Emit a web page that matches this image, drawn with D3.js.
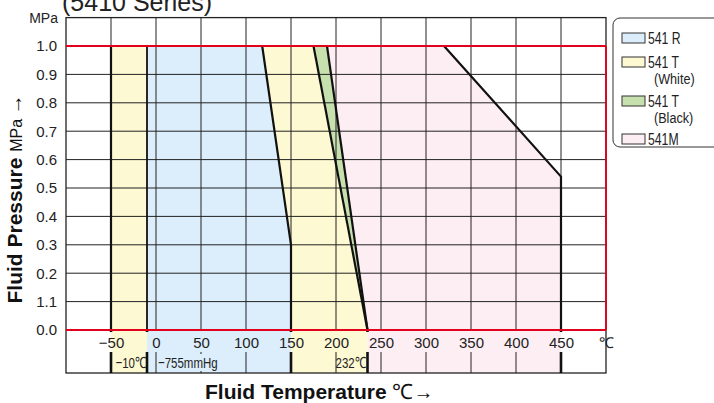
<!DOCTYPE html>
<html>
<head>
<meta charset="utf-8">
<script src="https://cdn.jsdelivr.net/npm/d3@7"></script>
<style>
  body { margin: 0; background: #fff; }
  svg { display: block; font-family: "Liberation Sans", Arial, sans-serif; }
</style>
</head>
<body>
<svg id="chart" width="714" height="403"></svg>
<script>
// Tick values and labels
const xTicks = [-50, 0, 50, 100, 150, 200, 250, 300, 350, 400, 450, 500];
const xTickLabels = ["\u221250", "0", "50", "100", "150", "200", "250", "300", "350", "400", "450", "\u2103"];
const yTicks = [1.0, 0.9, 0.8, 0.7, 0.6, 0.5, 0.4, 0.3, 0.2, 0.1, 0.0];
const yTickLabels = ["1.0", "0.9", "0.8", "0.7", "0.6", "0.5", "0.4", "0.3", "0.2", "1.1", "0.0"];

// Usable ranges, [temperature, pressure]
const r541 = [[-10, 1.0], [118, 1.0], [150, 0.3], [150, 0], [-10, 0]];
const t541WhiteLow = [[-50, 1.0], [-10, 1.0], [-10, 0], [-50, 0]];
const t541WhiteHigh = [[118, 1.0], [175, 1.0], [235, 0], [150, 0], [150, 0.3]];
const t541Black = [[175, 1.0], [190, 1.0], [235, 0]];
const m541 = [[190, 1.0], [320, 1.0], [450, 0.54], [450, 0], [235, 0]];

// Boundary lines between the ranges
const boundaries = [
  [[-50, 1.0], [-50, 0]],
  [[-10, 1.0], [-10, 0]],
  [[118, 1.0], [150, 0.3], [150, 0]],
  [[175, 1.0], [235, 0]],
  [[190, 1.0], [235, 0]],
  [[320, 1.0], [450, 0.54], [450, 0]]
];

// Notes under the axis
const noteTemps = [-10, 0, 232];
const noteTexts = ["\u221210\u2103", "\u2212755mmHg", "232\u2103"];

const legendNames = ["541 R", "541 T", "541 T", "541M"];
const legendSubs = ["", "(White)", "(Black)", ""];

const colors = { blue: "#dcedfc", yellow: "#fdf9d2", green: "#c6e0ae", pink: "#fdeef3", red: "#e2001a" };

const svg = d3.select("#chart");

// Scales
const x = d3.scaleLinear().domain([-100, 500]).range([66, 606]);
const y = d3.scaleLinear().domain([0, 1.0]).range([330, 46]);
const plotTop = y(1.1);
const plotBottom = 373;
const gapTop = 332, gapBottom = 352;

// Title (cut off at the top edge, as in the source)
svg.append("text")
  .attr("x", 62).attr("y", 11)
  .style("font-size", "25px").attr("fill", "#222")
  .text("(5410 Series)");

// Fills
const area = d3.line().x(d => x(d[0])).y(d => y(d[1]));
const fills = [
  [t541WhiteLow, colors.yellow],
  [r541, colors.blue],
  [t541WhiteHigh, colors.yellow],
  [t541Black, colors.green],
  [m541, colors.pink]
];
fills.forEach(([pts, c]) => {
  svg.append("path").attr("d", area(pts) + "Z").attr("fill", c);
  // continue the strip at pressure 0 down to the frame bottom
  const zero = pts.filter(d => d[1] === 0).map(d => d[0]);
  if (zero.length > 1) {
    const x0 = d3.min(zero), x1 = d3.max(zero);
    svg.append("rect")
      .attr("x", x(x0)).attr("y", y(0))
      .attr("width", x(x1) - x(x0)).attr("height", plotBottom - y(0))
      .attr("fill", c);
  }
});

// Grid
const grid = svg.append("g").attr("stroke", "#222").attr("stroke-width", 1);
d3.range(-50, 500, 50).forEach(t => {
  grid.append("line").attr("x1", x(t)).attr("x2", x(t)).attr("y1", plotTop).attr("y2", y(0));
  grid.append("line").attr("x1", x(t)).attr("x2", x(t)).attr("y1", gapBottom).attr("y2", plotBottom);
});
yTicks.filter(p => p > 0 && p < 1).forEach(p => {
  grid.append("line").attr("x1", x(-100)).attr("x2", x(500)).attr("y1", y(p)).attr("y2", y(p));
});

// Frame
svg.append("rect")
  .attr("x", x(-100)).attr("y", plotTop)
  .attr("width", x(500) - x(-100)).attr("height", plotBottom - plotTop)
  .attr("fill", "none").attr("stroke", "#222").attr("stroke-width", 1.3);

// Boundary lines
const bl = svg.append("g").attr("fill", "none").attr("stroke", "#111").attr("stroke-linejoin", "round");
boundaries.forEach(pts => {
  const thick = pts[0][0] !== -10;
  bl.append("path").attr("d", area(pts)).attr("stroke-width", thick ? 2.2 : 1.8);
});
// extend boundary ends below 0
const ends = Array.from(new Set(boundaries.map(b => b[b.length - 1][0])));
ends.forEach(t => {
  bl.append("line").attr("x1", x(t)).attr("x2", x(t)).attr("y1", y(0)).attr("y2", gapTop).attr("stroke-width", 2.6);
  bl.append("line").attr("x1", x(t)).attr("x2", x(t)).attr("y1", gapBottom).attr("y2", plotBottom).attr("stroke-width", 2.6);
});

// Red limit lines at 0 and 1.0 MPa
const red = svg.append("g").attr("stroke", colors.red).attr("stroke-width", 1.8);
[0, 1.0].forEach(p => red.append("line").attr("x1", x(-100)).attr("x2", x(500)).attr("y1", y(p)).attr("y2", y(p)));
red.append("line").attr("x1", x(500)).attr("x2", x(500)).attr("y1", y(1.0)).attr("y2", y(0));

// Axes
const yAxis = svg.append("g")
  .attr("transform", `translate(${x(-100)},0)`)
  .call(d3.axisLeft(y).tickValues(yTicks).tickFormat((d, i) => yTickLabels[i]).tickSize(0).tickPadding(9));
yAxis.select(".domain").remove();
yAxis.selectAll("text").style("font-size", "15px").attr("fill", "#222");
yAxis.attr("font-family", null);

svg.append("text")
  .attr("x", 58).attr("y", 23).attr("text-anchor", "end")
  .style("font-size", "14px").attr("fill", "#222")
  .text("MPa");

const xAxis = svg.append("g")
  .attr("transform", `translate(0,${y(0)})`)
  .call(d3.axisBottom(x).tickValues(xTicks).tickFormat((d, i) => xTickLabels[i]).tickSize(0).tickPadding(7));
xAxis.select(".domain").remove();
xAxis.selectAll("text").style("font-size", "15px").attr("fill", "#222");
xAxis.attr("font-family", null);

// Notes row
function condense(sel, k) {
  sel.each(function () {
    const w = this.getComputedTextLength();
    d3.select(this).attr("textLength", w * k).attr("lengthAdjust", "spacingAndGlyphs");
  });
}
const notes = svg.append("g").style("font-size", "15.5px").attr("fill", "#222");
noteTemps.forEach((t, i) => {
  const start = i === 1;
  const tx = notes.append("text")
    .attr("x", start ? x(t) + 2 : x(t) + (t === -10 ? -1 : 1))
    .attr("y", 368)
    .attr("text-anchor", start ? "start" : "end")
    .text(noteTexts[i]);
  condense(tx, 0.74);
  if (start) {
    // text sits over the 50 gridline, mask it with the range colour
    const b = tx.node().getBBox();
    notes.insert("rect", "text")
      .attr("x", b.x).attr("y", b.y).attr("width", b.width + 1).attr("height", b.height)
      .attr("fill", colors.blue);
  }
});

// Axis titles
const yt = svg.append("text")
  .attr("transform", "translate(22,199) rotate(-90)")
  .attr("text-anchor", "middle").attr("fill", "#111");
yt.append("tspan").style("font-size", "21px").style("font-weight", "bold").text("Fluid Pressure ");
yt.append("tspan").style("font-size", "16px").text("MPa ");
yt.append("tspan").style("font-size", "20px").text("\u2192");

const xt = svg.append("text")
  .attr("x", 205).attr("y", 399).attr("fill", "#111");
xt.append("tspan").style("font-size", "21px").style("font-weight", "bold").text("Fluid Temperature ");
xt.append("tspan").style("font-size", "21px").text("\u2103");
xt.append("tspan").style("font-size", "20px").text("\u2192");

// Legend
const lg = svg.append("g");
lg.append("rect")
  .attr("x", 613).attr("y", 18).attr("width", 120).attr("height", 129).attr("rx", 7)
  .attr("fill", "#fff").attr("stroke", "#333").attr("stroke-width", 1);
const legendColors = [colors.blue, colors.yellow, colors.green, colors.pink];
const legendY = [33, 57, 96, 134];
legendNames.forEach((name, i) => {
  lg.append("rect")
    .attr("x", 622).attr("y", legendY[i]).attr("width", 23).attr("height", 10)
    .attr("fill", legendColors[i]).attr("stroke", "#333").attr("stroke-width", 1);
  const t = lg.append("text")
    .attr("x", 648).attr("y", legendY[i] + 11)
    .style("font-size", "17px").attr("fill", "#222").text(name);
  condense(t, 0.72);
  if (legendSubs[i]) {
    const s = lg.append("text")
      .attr("x", 654).attr("y", legendY[i] + 27)
      .style("font-size", "14px").attr("fill", "#222").text(legendSubs[i]);
    condense(s, 0.9);
  }
});
</script>
</body>
</html>
